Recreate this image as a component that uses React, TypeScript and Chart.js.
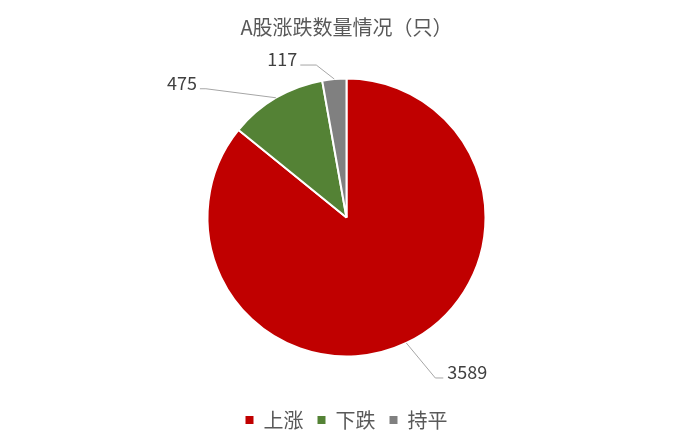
import React, { useEffect, useRef } from 'react';
import { Chart, registerables } from 'chart.js';
import type { Plugin } from 'chart.js';

Chart.register(...registerables);

const categories = ['上涨', '下跌', '持平'];
const counts = [3589, 475, 117];
const sliceColors = ['#C00000', '#548235', '#808080'];

// label placement per slice: elbow offset from the slice's outer edge, horizontal tail length
const labelOffsetX = [29, -70, -18];
const labelOffsetY = [35, -9, -14];
const leaderTail = [8, 6, 16];

const FONT = '"Noto Sans CJK SC", "Noto Sans", sans-serif';

// outside labels with leader lines, Excel style
const leaderLabels: Plugin<'pie'> = {
  id: 'leaderLabels',
  afterDatasetsDraw(chart) {
    const { ctx } = chart;
    const meta = chart.getDatasetMeta(0);
    ctx.save();
    ctx.font = `18px ${FONT}`;
    ctx.textBaseline = 'alphabetic';
    meta.data.forEach((el: any, i: number) => {
      const { x, y, startAngle, endAngle, outerRadius } = el.getProps(
        ['x', 'y', 'startAngle', 'endAngle', 'outerRadius'],
        true
      );
      const mid = (startAngle + endAngle) / 2;
      const x0 = x + Math.cos(mid) * outerRadius;
      const y0 = y + Math.sin(mid) * outerRadius;
      const x1 = x0 + labelOffsetX[i];
      const y1 = y0 + labelOffsetY[i];
      const right = labelOffsetX[i] >= 0;
      const x2 = x1 + (right ? leaderTail[i] : -leaderTail[i]);
      ctx.strokeStyle = '#A6A6A6';
      ctx.lineWidth = 1;
      ctx.beginPath();
      ctx.moveTo(x0, y0);
      ctx.lineTo(x1, y1);
      ctx.lineTo(x2, y1);
      ctx.stroke();
      ctx.fillStyle = '#404040';
      ctx.textAlign = right ? 'left' : 'right';
      ctx.fillText(String(counts[i]), x2 + (right ? 4 : -3), y1 + 1);
    });
    ctx.restore();
  },
};

const App: React.FC = () => {
  const canvasRef = useRef<HTMLCanvasElement | null>(null);

  useEffect(() => {
    document.body.style.margin = '0';
    if (!canvasRef.current) return;
    const chart = new Chart(canvasRef.current, {
      type: 'pie',
      data: {
        labels: categories,
        datasets: [
          {
            data: counts,
            backgroundColor: sliceColors,
            borderColor: '#FFFFFF',
            borderWidth: 2,
          },
        ],
      },
      options: {
        animation: false,
        responsive: true,
        maintainAspectRatio: false,
        radius: 139,
        layout: { padding: { top: 0, bottom: 8, left: 0, right: 0 } },
        plugins: {
          title: {
            display: true,
            text: 'A股涨跌数量情况（只）',
            color: '#595959',
            font: { family: FONT, size: 20, weight: 'normal' },
            padding: { top: 15, bottom: 0 },
          },
          legend: {
            position: 'bottom',
            labels: {
              usePointStyle: true,
              pointStyle: 'rect',
              boxWidth: 8,
              boxHeight: 8,
              padding: 14,
              color: '#595959',
              font: { family: FONT, size: 20 },
              // plain filled squares, without the white slice border
              generateLabels: (c) =>
                Chart.overrides.pie.plugins.legend.labels
                  .generateLabels(c)
                  .map((item) => ({ ...item, lineWidth: 0, strokeStyle: 'rgba(0,0,0,0)' })),
            },
          },
          tooltip: { enabled: false },
        },
      },
      plugins: [leaderLabels],
    });
    return () => chart.destroy();
  }, []);

  return (
    <div style={{ position: 'relative', width: 693, height: 448, background: '#FFFFFF' }}>
      <canvas ref={canvasRef} />
    </div>
  );
};

export default App;
